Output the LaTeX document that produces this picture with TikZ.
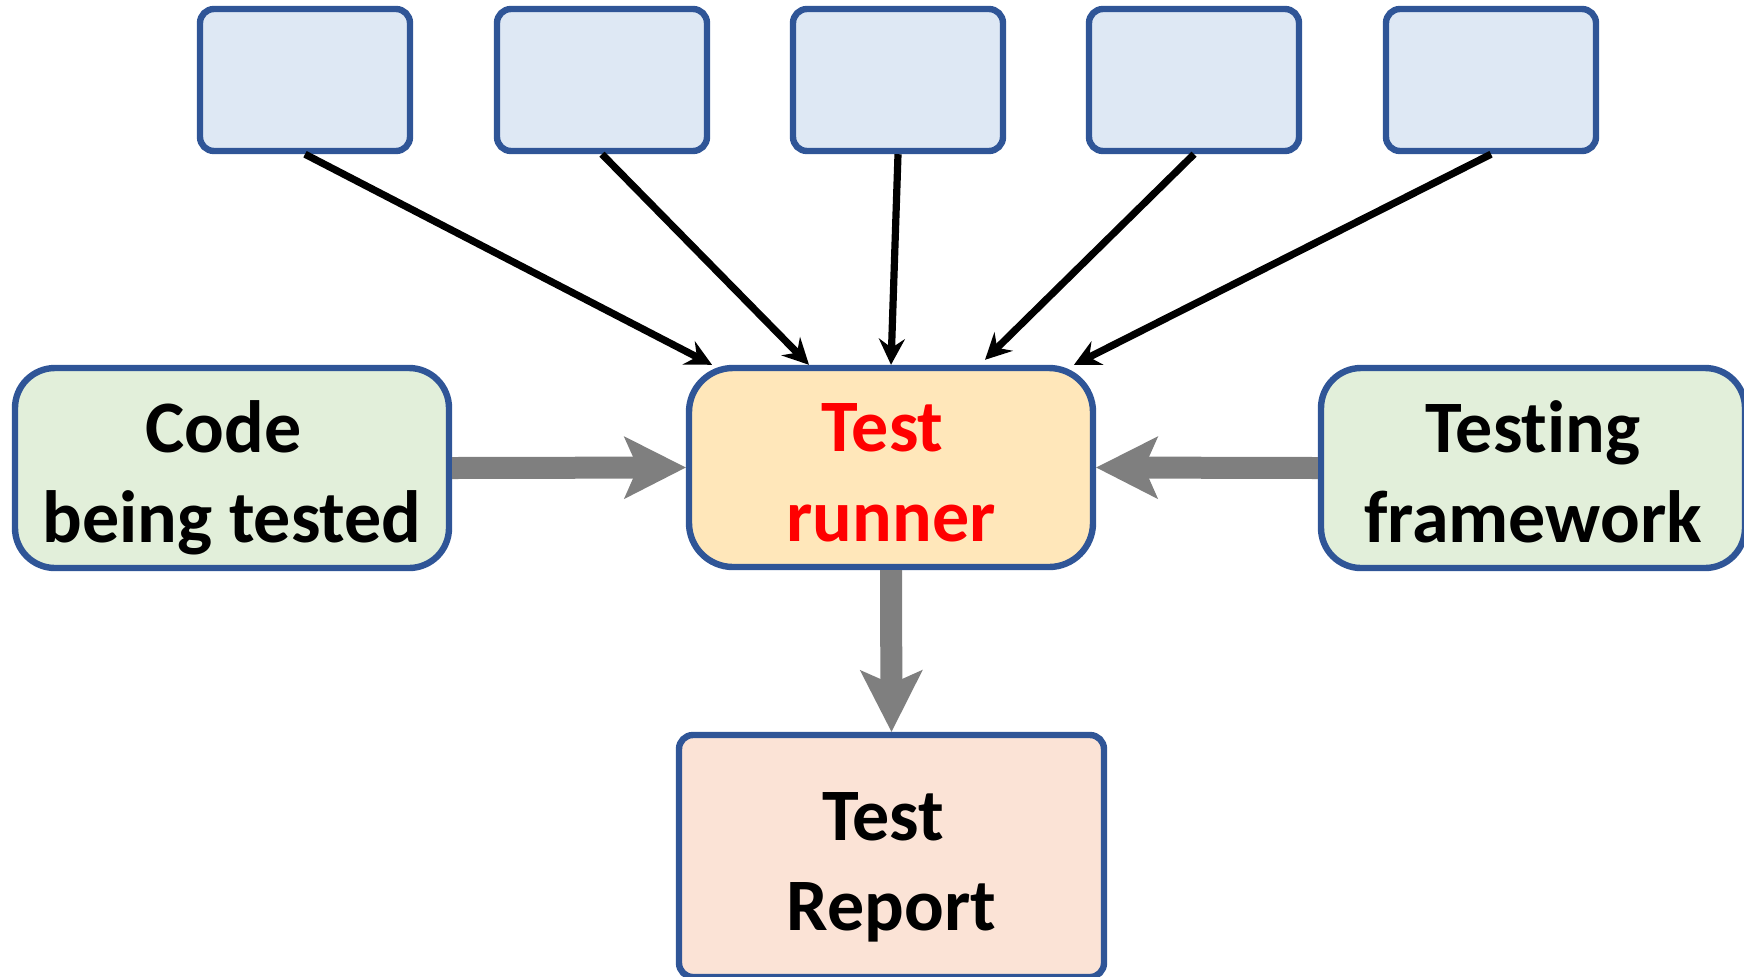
\documentclass[tikz,border=0pt]{standalone}
\usepackage{fontspec}
\setmainfont{Carlito}[Ligatures={NoCommon}]
\usetikzlibrary{arrows.meta}
\definecolor{bordblue}{HTML}{2F5597}
\definecolor{topfill}{HTML}{DEE8F4}
\definecolor{greenfill}{HTML}{E2EFDA}
\definecolor{runfill}{HTML}{FFE7BA}
\definecolor{repfill}{HTML}{FBE3D6}
\definecolor{arrgray}{HTML}{7F7F7F}
\newcommand{\firststrut}{\rule[-0.1em]{0pt}{1.11em}}
\newcommand{\laststrut}{\rule[-0.216em]{0pt}{0.6em}}
\newcommand{\tsp}{\kern0.23em}
\begin{document}
\begin{tikzpicture}[x=0.5pt,y=-0.5pt,
  topbox/.style={draw=bordblue, line width=3.2pt, fill=topfill, rounded corners=7pt,
    minimum width=105pt, minimum height=71pt, inner sep=0pt},
  bigbox/.style={draw=bordblue, line width=3.2pt, rounded corners=20pt, inner sep=0pt,
    align=center, font=\bfseries\fontsize{37}{45}\selectfont},
  thinarrow/.style={line width=3.6pt, black, -{Stealth[length=13pt, width=13pt, inset=4.5pt]}},
  thickarrow/.style={line width=11pt, arrgray, -{Stealth[length=31pt, width=31.5pt, inset=7pt, line width=0pt]}}
]
\useasboundingbox (0,0) rectangle (1744,976);
\node[topbox] (b1) at (305,80) {};
\node[topbox] (b2) at (602,80) {};
\node[topbox] (b3) at (898,80) {};
\node[topbox] (b4) at (1194,80) {};
\node[topbox] (b5) at (1491,80) {};
\node[bigbox, fill=runfill, text=red, minimum width=202pt, minimum height=99.5pt, rounded corners=22pt]
  (runner) at (891,467.5) {\firststrut Test\tsp\\\laststrut runner};
\node[bigbox, fill=greenfill, minimum width=217pt, minimum height=100pt]
  (code) at (232,468) {\firststrut Code\tsp\\\laststrut being tested};
\node[bigbox, fill=greenfill, minimum width=212pt, minimum height=100pt]
  (frame) at (1533,468) {\firststrut Testing\\\laststrut framework};
\node[bigbox, fill=repfill, minimum width=212.5pt, minimum height=121pt, rounded corners=7pt]
  (report) at (891.5,856) {\firststrut Test\tsp\\\laststrut Report};
\coordinate (t1) at ([xshift=-89.5pt]runner.north);
\coordinate (t2) at ([xshift=-41pt]runner.north);
\coordinate (t3) at (runner.north);
\coordinate (t4) at ([xshift=47pt,yshift=2.5pt]runner.north);
\coordinate (t5) at ([xshift=91.5pt]runner.north);
\draw[thinarrow] (b1.south) -- (t1);
\draw[thinarrow] (b2.south) -- (t2);
\draw[thinarrow] (b3.south) -- (t3);
\draw[thinarrow] (b4.south) -- (t4);
\draw[thinarrow] (b5.south) -- (t5);
\draw[thickarrow] (code.east) -- (runner.west);
\draw[thickarrow] (frame.west) -- (runner.east);
\draw[thickarrow] (runner.south) -- (report.north);
\end{tikzpicture}
\end{document}
